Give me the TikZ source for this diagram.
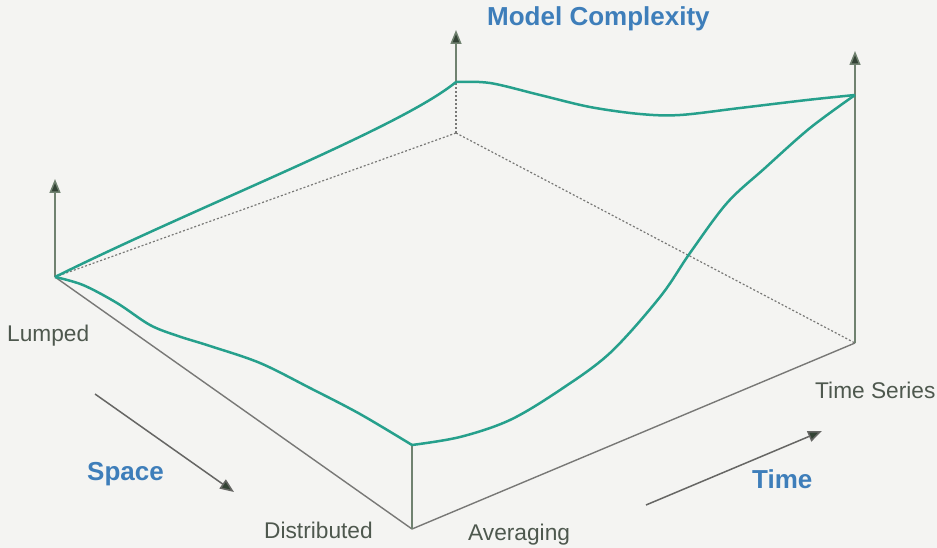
\documentclass[tikz,border=0pt]{standalone}
\usepackage{fontspec}
\setmainfont{Liberation Sans}
\usetikzlibrary{arrows.meta}
\definecolor{bgc}{RGB}{244,244,242}
\definecolor{teal}{RGB}{38,160,140}
\definecolor{bluet}{RGB}{62,126,186}
\definecolor{labt}{RGB}{78,88,78}
\definecolor{edgec}{RGB}{120,120,118}
\definecolor{axisc}{RGB}{112,130,112}
\definecolor{tipc}{RGB}{50,66,52}
\tikzset{
  surf/.style={draw=teal, line width=2.5pt, line join=round},
  edgeline/.style={draw=edgec, line width=1.4pt},
  hidden/.style={draw=edgec, line width=1.2pt, dash pattern=on 2pt off 2pt},
  axis/.style={draw=axisc, line width=1.5pt, -{Triangle[length=14pt,width=11pt,fill=tipc]}},
  dirarrow/.style={draw=edgec!85!black, line width=1.5pt, -{Triangle[length=14pt,width=11pt,fill=tipc]}},
  lab/.style={inner sep=0pt, anchor=base west, text=labt, font=\fontsize{22.7}{26}\selectfont},
  title/.style={inner sep=0pt, anchor=base west, text=bluet, font=\fontsize{26}{30}\selectfont\bfseries},
}
\begin{document}
\begin{tikzpicture}[x=1pt, y=-1pt]
\fill[bgc] (0,0) rectangle (937,548);
\useasboundingbox (0,0) rectangle (937,548);
% corners
\coordinate (L) at (55,277);
\coordinate (Lt) at (55,179);
\coordinate (B) at (456,133);
\coordinate (Bt) at (456,82);
\coordinate (Ba) at (456,30);
\coordinate (R) at (855,343);
\coordinate (Rt) at (855,95);
\coordinate (Ra) at (855,51);
\coordinate (F) at (412,529);
\coordinate (Ft) at (412,445);
\coordinate (S1) at (95,394);
\coordinate (S2) at (234,492);
\coordinate (T1) at (646,505);
\coordinate (T2) at (822,431);
% hidden edges
\draw[hidden] (L) -- (B);
\draw[hidden] (B) -- (R);
\draw[hidden] (B) -- (Bt);
% visible edges
\draw[edgeline] (L) -- (F);
\draw[edgeline] (F) -- (R);
\draw[draw=axisc, line width=1.4pt] (F) -- (Ft);
% axes
\draw[axis] (L) -- (Lt);
\draw[axis] (Bt) -- (Ba);
\draw[axis] (R) -- (Ra);
% surface curves
\draw[surf] (L) .. controls (200,205) and (400,128) .. (Bt);
\draw[surf] plot[smooth, tension=0.55] coordinates {(Bt) (490,83) (540,95) (590,107) (640,114) (680,115) (740,108) (807,100) (Rt)};
\draw[surf] plot[smooth, tension=0.55] coordinates {(L) (83,285) (117,303) (150,325) (178,336) (210,346) (260,363) (310,388) (360,414) (Ft)};
\draw[surf] plot[smooth, tension=0.55] coordinates {(Ft) (460,437) (510,420) (560,390) (610,353) (660,297) (690,253) (727,203) (765,168) (810,128) (Rt)};
% direction arrows
\draw[dirarrow] (S1) -- (S2);
\draw[dirarrow] (T1) -- (T2);
% labels
\node[title] (mc) at (487,26) {Model Complexity};
\node[lab] (lumped) at (7,341) {Lumped};
\node[title] (space) at (87,480) {Space};
\node[lab] (distr) at (264,538) {Distributed};
\node[lab] (aver) at (468,540) {Averaging};
\node[title] (time) at (752,488) {Time};
\node[lab] (ts) at (815,398) {Time Series};
\end{tikzpicture}
\end{document}
